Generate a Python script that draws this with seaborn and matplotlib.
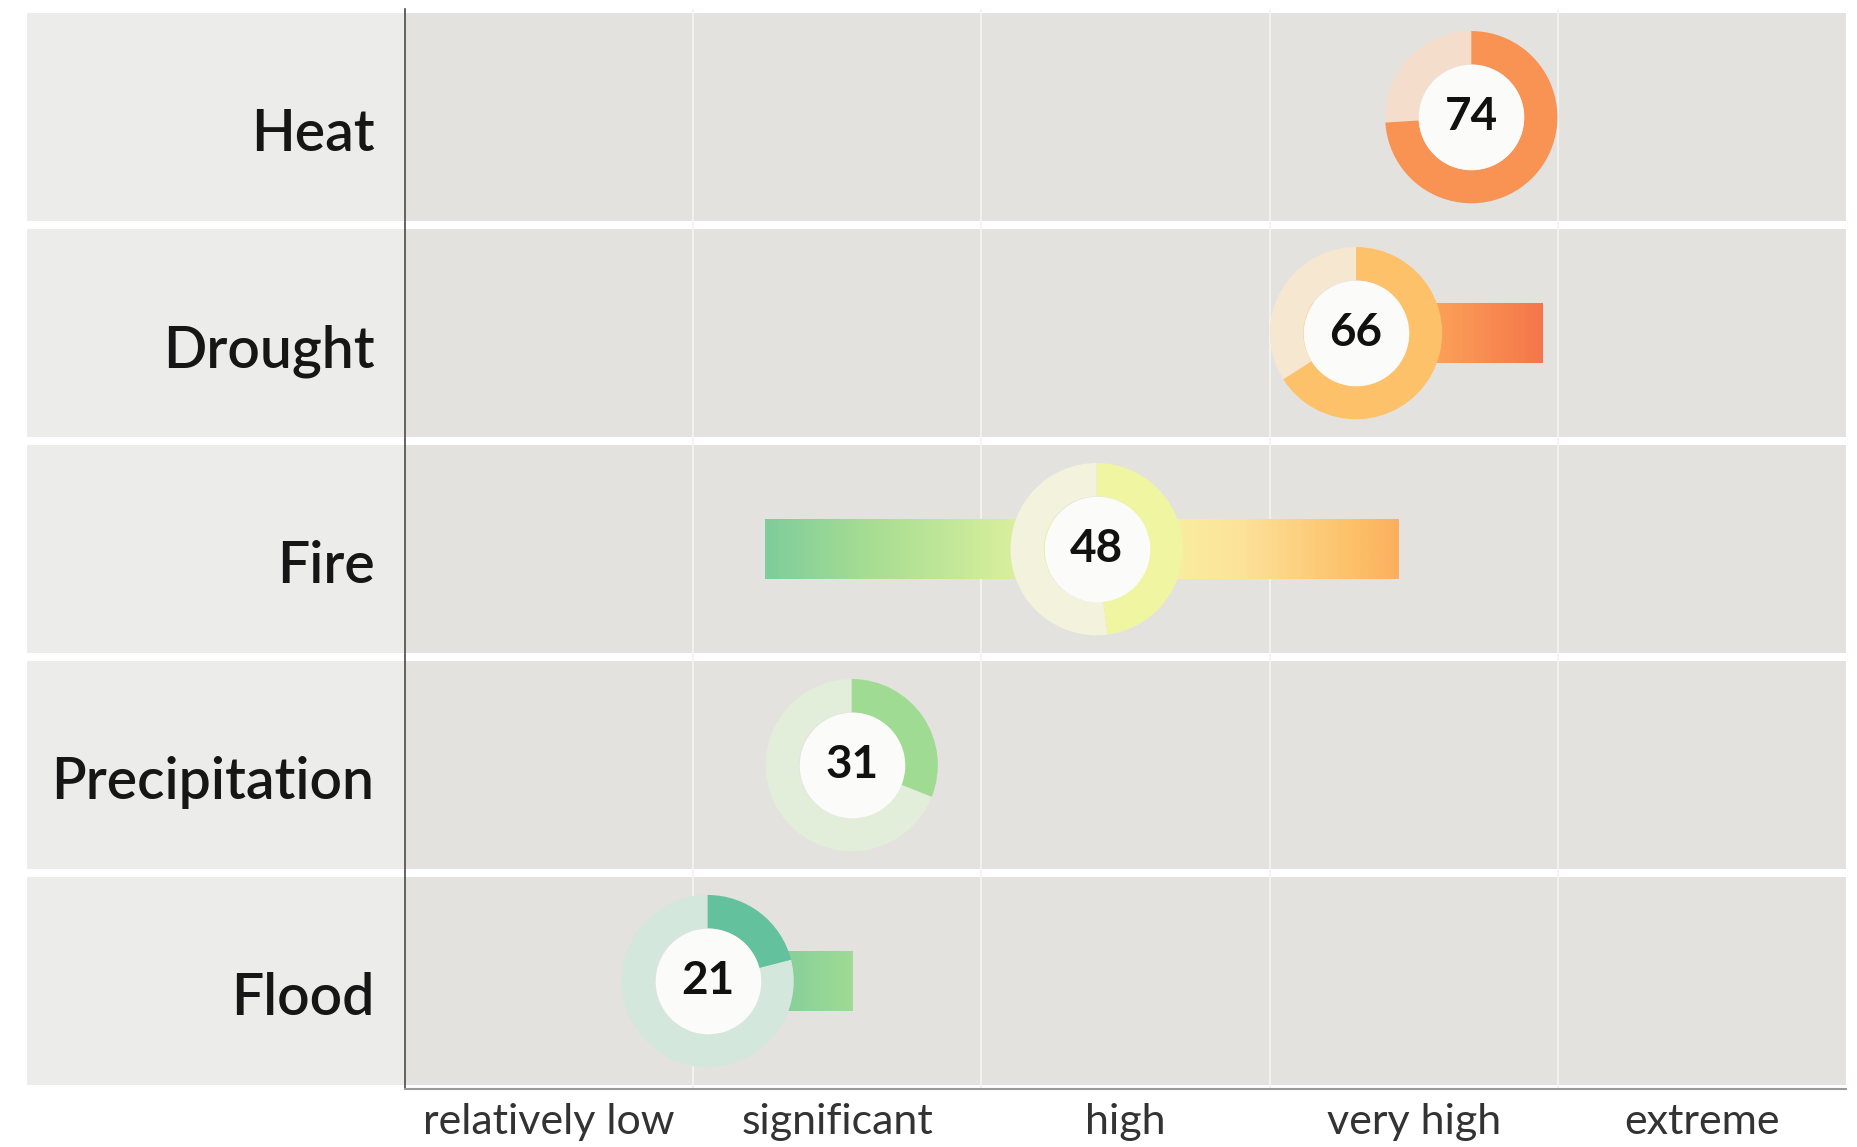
import numpy as np
import matplotlib
matplotlib.use('Agg')
import matplotlib.pyplot as plt
import matplotlib.transforms as mtransforms
from matplotlib.patches import Wedge, Rectangle
from matplotlib.colors import LinearSegmentedColormap, Normalize, to_rgb
import seaborn as sns

# data
hazards = ['Heat', 'Drought', 'Fire', 'Precipitation', 'Flood']
scores = [74, 66, 48, 31, 21]
range_low = [74, 62, 25, 31, 21]
range_high = [74, 79, 69, 31, 31]
levels = ['relatively low', 'significant', 'high', 'very high', 'extreme']
level_centers = [10, 30, 50, 70, 90]
level_edges = [20, 40, 60, 80]

sns.set_style('white')
plt.rcParams['font.family'] = ['Lato', 'DejaVu Sans']

# pastel green -> yellow -> orange scale used for rings and bars
cmap = LinearSegmentedColormap.from_list('risk', [
    (0.00, '#3fae92'), (0.20, '#5fbf9d'), (0.25, '#7fcd9c'), (0.32, '#a6dd92'),
    (0.45, '#e6f4a0'), (0.50, '#f6f6a2'), (0.58, '#fde39a'), (0.66, '#fcc068'),
    (0.71, '#fca55a'), (0.79, '#f5764a'), (1.00, '#e8503c')])
norm = Normalize(0, 100)

fig = plt.figure(figsize=(18.58, 11.47), dpi=100)
ax = fig.add_axes([0.218, 0.0505, 0.7755, 0.9415])
ax.set_xlim(0, 100)
ax.set_ylim(4.5, -0.5)
ypos = np.arange(len(hazards))

# row bands: warm grey in plot, lighter grey under the labels
half = 0.481
band_trans = mtransforms.blended_transform_factory(fig.transFigure, ax.transData)
for y in ypos:
    ax.axhspan(y - half, y + half, color='#e4e2df', lw=0, zorder=0.2)
    fig.patches.append(Rectangle((0.0145, y - half), 0.218 - 0.0145, 2 * half,
                                 transform=band_trans, color='#ececeb', lw=0, zorder=-1))

# column separators
ax.set_xticks(level_edges, minor=True)
ax.grid(which='minor', axis='x', color='#f3f3f2', lw=1.3)
ax.grid(which='major', visible=False)
ax.set_axisbelow(True)

# gradient range bars
bar_h = 0.28
for y, lo, hi in zip(ypos, range_low, range_high):
    if hi <= lo:
        continue
    bar = ax.barh(y, hi - lo, left=lo, height=bar_h, color='none', lw=0, zorder=2)[0]
    grad = np.linspace(lo, hi, 256).reshape(1, -1)
    im = ax.imshow(grad, extent=[lo, hi, y + bar_h / 2, y - bar_h / 2], cmap=cmap,
                   norm=norm, aspect='auto', zorder=2, interpolation='bicubic')
    im.set_clip_path(bar)
ax.set_xlim(0, 100)
ax.set_ylim(4.5, -0.5)

# donut rings, sized in points around each score
r_out, r_in = 62, 38
for y, v in zip(ypos, scores):
    c = np.array(to_rgb(cmap(norm(v))))
    pale = c * 0.22 + np.array(to_rgb('#f4f2ee')) * 0.78
    trans = (mtransforms.Affine2D().scale(fig.dpi / 72)
             + mtransforms.ScaledTranslation(v, y, ax.transData))
    ax.add_patch(Wedge((0, 0), r_out, 90, 450 - v * 3.6, width=r_out - r_in,
                       transform=trans, color=pale, lw=0, zorder=3))
    ax.add_patch(Wedge((0, 0), r_out, 90 - v * 3.6, 90, width=r_out - r_in,
                       transform=trans, color=c, lw=0, zorder=3))

sns.scatterplot(x=scores, y=ypos, s=(2 * r_in) ** 2, color='#fbfbfa', linewidth=0,
                ax=ax, zorder=4, legend=False)
ax.set_xlim(0, 100)
ax.set_ylim(4.5, -0.5)

for y, v in zip(ypos, scores):
    ax.text(v, y, str(v), ha='center', va='center', fontsize=33,
            fontweight='bold', color='#111111', zorder=5)

ax.set_yticks(ypos)
ax.set_yticklabels(hazards, fontsize=41, color='#161616', fontweight='semibold')
ax.set_xticks(level_centers)
ax.set_xticklabels(levels, fontsize=31, color='#333333')
ax.tick_params(axis='both', which='both', length=0)
ax.tick_params(axis='y', pad=22)
ax.tick_params(axis='x', pad=10)
ax.set_xlabel('')
ax.set_ylabel('')

# hazard names sit a little below the row centre
shift = mtransforms.ScaledTranslation(0, -9 / 72, fig.dpi_scale_trans)
for lab in ax.get_yticklabels():
    lab.set_transform(lab.get_transform() + shift)

for side in ['top', 'right']:
    ax.spines[side].set_visible(False)
ax.spines['left'].set_color('#4a4a4a')
ax.spines['left'].set_linewidth(1.2)
ax.spines['bottom'].set_color('#9a9a9a')
ax.spines['bottom'].set_linewidth(1.5)

fig.savefig('out.png', dpi=100, facecolor='white')
